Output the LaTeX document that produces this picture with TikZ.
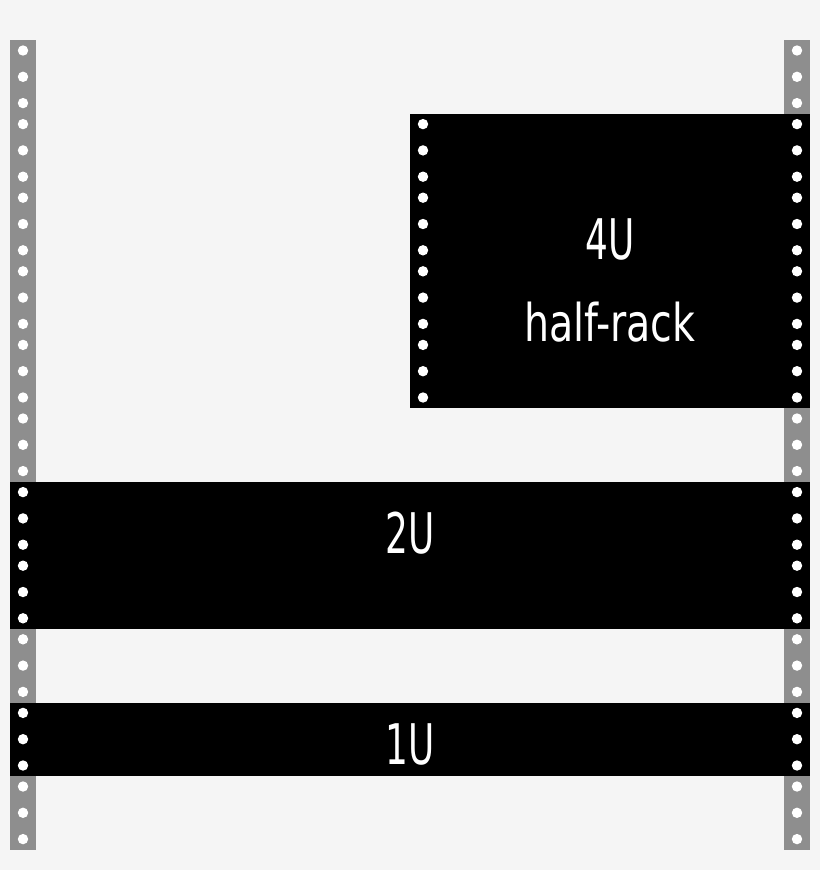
\documentclass[tikz,border=0pt]{standalone}
\usepackage{fontspec}
\newfontfamily\rackfont{DejaVu Sans}[FakeStretch=0.76]
\newfontfamily\rackfontnarrow{DejaVu Sans}[FakeStretch=0.64]
\definecolor{railgray}{RGB}{142,142,142}
\definecolor{bggray}{RGB}{245,245,245}
\newcommand{\rackU}{73.6}

\begin{document}
\begin{tikzpicture}
        [x=1pt,y=-1pt,
         rail/.style={fill=railgray},
         hole/.style={fill=white},
         device/.style={rectangle,fill=black,inner sep=0pt,anchor=north east},
         rack text/.style={text=white,inner sep=0pt,anchor=base,font=\rackfont\fontsize{52}{56}\selectfont},
         big text/.style={rack text,font=\rackfontnarrow\fontsize{#1}{60}\selectfont}]

        \fill[bggray] (0,0) rectangle (820,870);
        \useasboundingbox (0,0) rectangle (820,870);

        \fill[rail] (10,40) rectangle (36,849.6);
        \fill[rail] (784,40) rectangle (810,849.6);

        \node[device,minimum width=400,minimum height=4*\rackU] (halfrack) at (810,40+1*\rackU) {};
        \node[device,minimum width=800,minimum height=2*\rackU] (unit2) at (810,40+6*\rackU) {};
        \node[device,minimum width=800,minimum height=1*\rackU] (unit1) at (810,40+9*\rackU) {};

        \foreach \k in {0,...,10}
            \foreach \d in {10.5,36.8,63.1} {
                \fill[hole] (23,40+\k*\rackU+\d) circle (5.2pt);
                \fill[hole] (797,40+\k*\rackU+\d) circle (5.2pt);
            }
        \foreach \k in {1,...,4}
            \foreach \d in {10.5,36.8,63.1}
                \fill[hole] (423,40+\k*\rackU+\d) circle (5.2pt);

        \node[big text=56] (label4u) at ([yshift=-145.7pt]halfrack.north) {4U};
        \node[rack text] (labelhalf) at ([yshift=-228pt]halfrack.north) {half-rack};
        \node[big text=56] (label2u) at ([yshift=-71.7pt]unit2.north) {2U};
        \node[big text=56] (label1u) at ([yshift=-61.9pt]unit1.north) {1U};

    \end{tikzpicture}
\end{document}
